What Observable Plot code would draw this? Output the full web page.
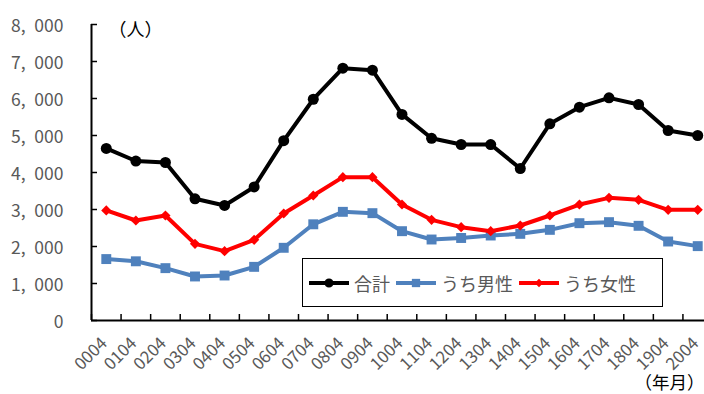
<!DOCTYPE html>
<html><head><meta charset="utf-8">
<script src="https://cdn.jsdelivr.net/npm/d3@7"></script>
<script src="https://cdn.jsdelivr.net/npm/@observablehq/plot@0.6"></script>
<style>
body{margin:0;background:#fff;}
#wrap{position:relative;width:704px;height:394px;overflow:hidden;font-family:"Noto Sans CJK JP",sans-serif;}
#legend{position:absolute;left:302px;top:258px;width:361px;height:49px;border:1.5px solid #000;box-sizing:border-box;background:#fff;display:flex;align-items:center;padding-left:6px;font-size:18px;color:#595959;}
#legend .it{display:flex;align-items:center;margin-right:6px;}
#legend svg{margin-right:5px;}
</style></head>
<body><div id="wrap"><div id="legend"></div></div>
<script>
const periods = ["0004","0104","0204","0304","0404","0504","0604","0704","0804","0904","1004","1104","1204","1304","1404","1504","1604","1704","1804","1904","2004"];
const total  = [4650,4310,4270,3290,3110,3610,4860,5980,6820,6765,5570,4925,4757,4755,4108,5315,5766,6018,5838,5135,5000];
const male   = [1660,1600,1415,1190,1216,1450,1965,2600,2937,2901,2414,2189,2230,2297,2342,2450,2630,2658,2559,2135,2010];
const female = [2975,2703,2838,2072,1874,2180,2892,3378,3874,3874,3135,2721,2523,2414,2568,2838,3135,3315,3261,2991,2991];
const yTicks = [0,1000,2000,3000,4000,5000,6000,7000,8000];
const seriesNames = ["合計","うち男性","うち女性"];
const seriesColors = ["#000000","#4f81bd","#ff0000"];
const seriesSymbols = ["circle","square","diamond2"];
const seriesR = [5.5,5.6,4.6];
const yUnit = "（人）";
const xUnit = "（年月）";

const seriesValues = [total, male, female];
const rows = seriesValues.flatMap((vals, s) => vals.map((v, i) => ({i, period: periods[i], value: v, s})));
const fmt = d => d3.format(",")(d).replace(",", ",\u2002");
const gray = "#595959";
const font = "Noto Sans CJK JP";

const marks = [];
seriesValues.forEach((vals, s) => {
  const data = rows.filter(d => d.s === s);
  marks.push(Plot.line(data, {x: d => d.i + 0.5, y: "value", stroke: seriesColors[s], strokeWidth: 4, strokeLinejoin: "round"}));
  marks.push(Plot.dot(data, {x: d => d.i + 0.5, y: "value", fill: seriesColors[s], stroke: "none", symbol: seriesSymbols[s], r: seriesR[s]}));
});

const chart = Plot.plot({
  width: 704, height: 394,
  marginLeft: 91, marginRight: 0, marginTop: 24, marginBottom: 74,
  style: {fontFamily: font, background: "#fff", overflow: "visible"},
  x: {domain: [0, 21], range: [91, 712]},
  y: {domain: [0, 8000]},
  marks: [
    Plot.axisY({ticks: yTicks, tickSize: 0, tickPadding: 28, tickFormat: fmt, fontSize: 17.5, fill: gray, label: null, dy: 1.5}),
    Plot.axisY({ticks: yTicks, tickSize: -6, tickFormat: () => "", stroke: "#000", strokeWidth: 1.5, label: null}),
    Plot.axisX({ticks: d3.range(periods.length + 1), tickSize: -6, tickFormat: () => "", stroke: "#000", strokeWidth: 1.5, label: null}),
    Plot.text(periods, {x: (d, i) => i + 0.5, frameAnchor: "bottom", rotate: -45, textAnchor: "end", lineAnchor: "middle", dy: 20, dx: -2, fontSize: 17, fill: gray}),
    Plot.ruleX([0], {stroke: "#000", strokeWidth: 2}),
    Plot.ruleY([0], {stroke: "#000", strokeWidth: 2}),
    ...marks,
    Plot.text([yUnit], {frameAnchor: "top-left", textAnchor: "start", lineAnchor: "middle", dx: 17, dy: 6, fontSize: 18, fill: "#000"}),
    Plot.text([xUnit], {frameAnchor: "bottom-right", textAnchor: "end", lineAnchor: "middle", dx: 0, dy: 63, fontSize: 17.5, fill: "#000"})
  ]
});
document.getElementById("wrap").prepend(chart);

const legend = document.getElementById("legend");
seriesNames.forEach((name, s) => {
  const it = document.createElement("div");
  it.className = "it";
  const ns = "http://www.w3.org/2000/svg";
  const sv = document.createElementNS(ns, "svg");
  sv.setAttribute("width", 40); sv.setAttribute("height", 14);
  const ln = document.createElementNS(ns, "line");
  ln.setAttribute("x1", 0); ln.setAttribute("x2", 40); ln.setAttribute("y1", 7); ln.setAttribute("y2", 7);
  ln.setAttribute("stroke", seriesColors[s]); ln.setAttribute("stroke-width", 4);
  sv.appendChild(ln);
  const p = document.createElementNS(ns, "path");
  p.setAttribute("d", d3.symbol(d3["symbol" + {circle: "Circle", square: "Square", diamond2: "Diamond2"}[seriesSymbols[s]]], Math.PI * seriesR[s] * seriesR[s] * 0.7)());
  p.setAttribute("transform", "translate(20,7)");
  p.setAttribute("fill", seriesColors[s]);
  sv.appendChild(p);
  const t = document.createElement("span");
  t.textContent = name;
  it.appendChild(sv); it.appendChild(t);
  legend.appendChild(it);
});
</script>
</body></html>
